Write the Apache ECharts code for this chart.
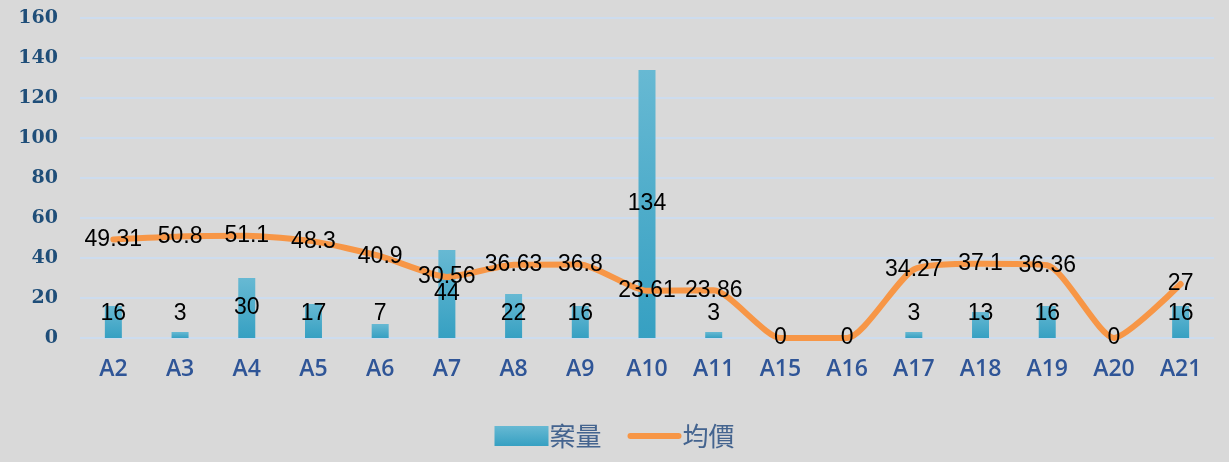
<!DOCTYPE html>
<html>
<head>
<meta charset="utf-8">
<script src="https://cdn.jsdelivr.net/npm/echarts@6/dist/echarts.min.js"></script>
<style>
  html, body { margin: 0; padding: 0; background: #d9d9d9; }
  #chart { width: 1229px; height: 462px; }
</style>
</head>
<body>
<div id="chart"></div>
<script>
const categories = ['A2', 'A3', 'A4', 'A5', 'A6', 'A7', 'A8', 'A9', 'A10', 'A11', 'A15', 'A16', 'A17', 'A18', 'A19', 'A20', 'A21']
const caseCounts = [16, 3, 30, 17, 7, 44, 22, 16, 134, 3, 0, 0, 3, 13, 16, 0, 16]
const avgPrices = [49.31, 50.8, 51.1, 48.3, 40.9, 30.56, 36.63, 36.8, 23.61, 23.86, 0, 0, 34.27, 37.1, 36.36, 0, 27]
const yTicks = [0, 20, 40, 60, 80, 100, 120, 140, 160]

var myChart = echarts.init(document.getElementById('chart'))

// small bars get their label lifted a bit, like excel does
var barData = caseCounts.map((v) => {
    let item = { value: v }
    if (v === 0) {
        item.label = { show: false }
    } else if (v <= 22) {
        item.label = { position: 'insideBottom', distance: 13 }
    }
    return item
})

var labelFont = {
    color: '#000',
    fontSize: 23,
    fontFamily: 'Liberation Sans',
}

option = {
    backgroundColor: '#d9d9d9',
    animation: false,
    grid: {
        left: 80,
        right: 15,
        top: 18,
        bottom: 124,
    },
    legend: {
        bottom: 8,
        left: 'center',
        itemWidth: 54,
        itemHeight: 20,
        itemGap: 26,
        textStyle: {
            color: '#44648f',
            fontSize: 26,
            fontFamily: 'Noto Sans CJK TC',
            padding: [0, 0, 0, -4],
        },
        data: [
            { name: '案量', icon: 'rect' },
            { name: '均價', icon: 'path://M3,0 H51 A3,3 0 0 1 51,6 H3 A3,3 0 0 1 3,0 Z' },
        ],
    },
    xAxis: {
        type: 'category',
        data: categories,
        axisLine: { show: false },
        axisTick: { show: false },
        axisLabel: {
            color: '#2f5597',
            fontSize: 23,
            fontWeight: 600,
            fontFamily: 'Open Sans',
            margin: 20,
        },
    },
    yAxis: {
        type: 'value',
        min: yTicks[0],
        max: yTicks[yTicks.length - 1],
        interval: 20,
        splitLine: {
            lineStyle: {
                type: 'solid',
                color: '#cddcee',
                width: 2,
            }
        },
        axisLabel: {
            color: '#1f4e79',
            fontSize: 19,
            fontWeight: 'bold',
            fontFamily: 'DejaVu Serif',
            margin: 22,
        },
    },
    series: [{
        name: '案量',
        type: 'bar',
        data: barData,
        barWidth: 17,
        itemStyle: {
            color: new echarts.graphic.LinearGradient(0, 0, 0, 1, [
                { offset: 0, color: '#67b9d3' },
                { offset: 1, color: '#36a0c2' },
            ]),
        },
        label: Object.assign({ show: true, position: 'inside' }, labelFont),
    }, {
        name: '均價',
        type: 'line',
        data: avgPrices,
        smooth: 0.2,
        symbol: 'circle',
        symbolSize: 0,
        showSymbol: true,
        lineStyle: {
            color: '#f79646',
            width: 6,
            cap: 'round',
        },
        itemStyle: { color: '#f79646' },
        label: Object.assign({ show: true, position: 'inside' }, labelFont),
        z: 3,
    }]
}
myChart.setOption(option)
</script>
</body>
</html>
